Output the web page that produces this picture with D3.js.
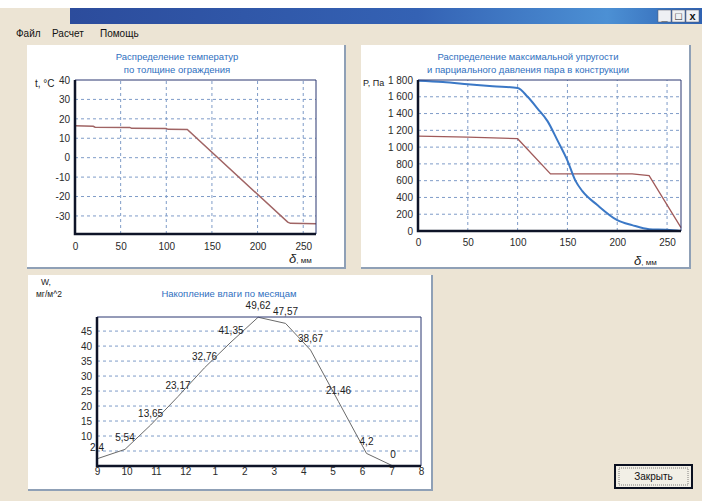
<!DOCTYPE html>
<html>
<head>
<meta charset="utf-8">
<script src="https://cdn.jsdelivr.net/npm/d3@7"></script>
<style>
  body { margin: 0; background: #ece4d4; }
  svg { display: block; font-family: "Liberation Sans", Arial, sans-serif; }
</style>
</head>
<body>
<script>
// Temperature through the wall, δ (mm) -> t (°C)
const tempDepth = [0, 20, 22, 60, 62, 100, 102, 123, 233, 236, 264];
const tempValue = [16.4, 16.2, 15.7, 15.6, 15.1, 15.0, 14.6, 14.5, -33.2, -33.8, -34.0];

// Max vapour elasticity E (blue) and partial pressure e (red), δ (mm) -> P (Pa)
const maxDepth = [0, 25, 50, 75, 100, 110, 120, 130, 140, 150, 158, 165, 180, 200, 215, 232, 250, 264];
const maxPress = [1790, 1775, 1750, 1725, 1705, 1600, 1460, 1310, 1080, 840, 600, 475, 310, 130, 70, 22, 15, 0];
const partDepth = [0, 50, 100, 133, 215, 232, 264];
const partPress = [1130, 1120, 1100, 680, 680, 660, 40];

// Moisture accumulation per month
const monthLabels = ["9", "10", "11", "12", "1", "2", "3", "4", "5", "6", "7", "8"];
const moisturePos = [0, 0.95, 1.82, 2.75, 3.65, 4.55, 5.47, 6.4, 7.25, 8.2, 9.15, 10.05];
const moistureValue = [2.4, 5.54, 13.65, 23.17, 32.76, 41.35, 49.62, 47.57, 38.67, 21.46, 4.2, 0];

const W = 702, H = 501;
const svg = d3.select("body").append("svg").attr("width", W).attr("height", H);

svg.append("rect").attr("width", W).attr("height", H).attr("fill", "#ece4d4");

// Window chrome
svg.append("rect").attr("width", W).attr("height", 8).attr("fill", "#fff");
const grad = svg.append("defs").append("linearGradient").attr("id", "bar");
grad.append("stop").attr("offset", "0%").attr("stop-color", "#2c4c9c");
grad.append("stop").attr("offset", "55%").attr("stop-color", "#3462b4");
grad.append("stop").attr("offset", "85%").attr("stop-color", "#4c90d4");
grad.append("stop").attr("offset", "100%").attr("stop-color", "#2f62b2");
svg.append("rect").attr("x", 70).attr("y", 8).attr("width", W - 70).attr("height", 16).attr("fill", "url(#bar)");

const btns = ["_", "□", "x"];
btns.forEach((b, i) => {
  const bx = 658 + i * 14;
  svg.append("rect").attr("x", bx).attr("y", 10).attr("width", 13).attr("height", 12)
    .attr("fill", "#eef0f4").attr("stroke", "#556").attr("stroke-width", 0.5);
  svg.append("text").attr("x", bx + 6.5).attr("y", 20).attr("text-anchor", "middle")
    .attr("font-size", 11).attr("font-weight", "bold").attr("fill", "#111").text(b);
});

[["Файл", 16], ["Расчет", 52], ["Помощь", 100]].forEach(([t, x]) => {
  svg.append("text").attr("x", x).attr("y", 37).attr("font-size", 10).attr("fill", "#111").text(t);
});

// Panels
function panel(x0, y0, x1, y1) {
  svg.append("rect").attr("x", x0).attr("y", y0).attr("width", x1 - x0).attr("height", y1 - y0)
    .attr("fill", "#fff");
  svg.append("path").attr("d", `M${x1},${y0}V${y1}H${x0}`).attr("fill", "none")
    .attr("stroke", "#8fa0b6").attr("stroke-width", 2);
}
panel(27, 45, 345, 268);
panel(361, 45, 690, 268);
panel(28, 275, 432, 490);

const gridColor = "#7f9cc8";
const ruFmt = d3.formatLocale({ decimal: ",", thousands: " ", grouping: [3], currency: ["", ""], minus: "-" });

function title(lines, cx, y0) {
  lines.forEach((l, i) => {
    svg.append("text").attr("x", cx).attr("y", y0 + i * 12.5).attr("text-anchor", "middle")
      .attr("font-size", 9.5).attr("fill", "#2f6fc0").text(l);
  });
}

function frame(g, x, y) {
  const [l, r] = x.range(), [b, t] = y.range();
  g.append("path").attr("d", `M${l},${t}H${r}V${b}`).attr("fill", "none")
    .attr("stroke", "#2a3670").attr("stroke-width", 1);
  g.append("path").attr("d", `M${l},${t}V${b}H${r}`).attr("fill", "none")
    .attr("stroke", "#0e1428").attr("stroke-width", 2.5);
}

function axisText(sel) {
  sel.select(".domain").remove();
  sel.selectAll("text").attr("font-size", 10).attr("fill", "#2a2a2a")
    .attr("font-family", "Liberation Sans, Arial, sans-serif");
}

function deltaLabel(x, y) {
  const t = svg.append("text").attr("x", x).attr("y", y).attr("fill", "#222");
  t.append("tspan").attr("font-size", 13).attr("font-style", "italic").text("δ");
  t.append("tspan").attr("font-size", 8).text(", мм");
}

// Chart 1: temperature
{
  const x = d3.scaleLinear().domain([0, 264]).range([75, 316]);
  const y = d3.scaleLinear().domain([-39.3, 40]).range([234, 80]);
  const g = svg.append("g");
  title(["Распределение температур", "по толщине ограждения"], 177, 60);

  g.selectAll(".hg").data([-30, -20, -10, 0, 10, 20, 30]).join("line")
    .attr("x1", x(0)).attr("x2", x(264)).attr("y1", d => y(d)).attr("y2", d => y(d))
    .attr("stroke", gridColor).attr("stroke-dasharray", "3,3");
  g.selectAll(".vg").data([50, 100, 150, 200, 250]).join("line")
    .attr("y1", y(-39.3)).attr("y2", y(40)).attr("x1", d => x(d)).attr("x2", d => x(d))
    .attr("stroke", gridColor).attr("stroke-dasharray", "3,3");

  const pts = tempDepth.map((d, i) => [d, tempValue[i]]);
  g.append("path").datum(pts)
    .attr("d", d3.line().x(d => x(d[0])).y(d => y(d[1])))
    .attr("fill", "none").attr("stroke", "#a06464").attr("stroke-width", 1.5);

  frame(g, x, y);

  g.append("g").attr("transform", `translate(75,0)`)
    .call(d3.axisLeft(y).tickValues([-30, -20, -10, 0, 10, 20, 30, 40]).tickSize(0).tickPadding(5)
      .tickFormat(ruFmt.format("d")))
    .call(axisText);
  g.append("g").attr("transform", `translate(0,234)`)
    .call(d3.axisBottom(x).tickValues([0, 50, 100, 150, 200, 250]).tickSize(0).tickPadding(9))
    .call(axisText);

  svg.append("text").attr("x", 35).attr("y", 87).attr("font-size", 10).attr("fill", "#222").text("t, °C");
  deltaLabel(289, 263);
}

// Chart 2: pressures
{
  const x = d3.scaleLinear().domain([0, 264]).range([418, 681]);
  const y = d3.scaleLinear().domain([0, 1800]).range([231, 80]);
  const g = svg.append("g");
  title(["Распределение максимальной упругости", "и парциального давления пара в конструкции"], 528, 60);

  g.selectAll(".hg").data([200, 400, 600, 800, 1000, 1200, 1400, 1600]).join("line")
    .attr("x1", x(0)).attr("x2", x(264)).attr("y1", d => y(d)).attr("y2", d => y(d))
    .attr("stroke", gridColor).attr("stroke-dasharray", "3,3");
  g.selectAll(".vg").data([50, 100, 150, 200, 250]).join("line")
    .attr("y1", y(0)).attr("y2", y(1800)).attr("x1", d => x(d)).attr("x2", d => x(d))
    .attr("stroke", gridColor).attr("stroke-dasharray", "3,3");

  const line = d3.line().x(d => x(d[0])).y(d => y(d[1]));
  g.append("path").datum(partDepth.map((d, i) => [d, partPress[i]]))
    .attr("d", line).attr("fill", "none").attr("stroke", "#a05a5a").attr("stroke-width", 1.3);
  g.append("path").datum(maxDepth.map((d, i) => [d, maxPress[i]]))
    .attr("d", d3.line().curve(d3.curveMonotoneX).x(d => x(d[0])).y(d => y(d[1])))
    .attr("fill", "none").attr("stroke", "#3b78c6").attr("stroke-width", 2);

  frame(g, x, y);

  g.append("g").attr("transform", `translate(418,0)`)
    .call(d3.axisLeft(y).tickValues(d3.range(0, 1801, 200)).tickSize(0).tickPadding(5)
      .tickFormat(ruFmt.format(",")))
    .call(axisText);
  g.append("g").attr("transform", `translate(0,231)`)
    .call(d3.axisBottom(x).tickValues([0, 50, 100, 150, 200, 250]).tickSize(0).tickPadding(8))
    .call(axisText);

  svg.append("text").attr("x", 363).attr("y", 86).attr("font-size", 9).attr("fill", "#222").text("P, Па");
  deltaLabel(634, 265);
}

// Chart 3: moisture accumulation
{
  const x = d3.scaleLinear().domain([0, 11]).range([97, 421]);
  const y = d3.scaleLinear().domain([0, 49.7]).range([466, 317]);
  const g = svg.append("g");
  title(["Накопление влаги по месяцам"], 229, 297);

  g.selectAll(".hg").data([5, 10, 15, 20, 25, 30, 35, 40, 45]).join("line")
    .attr("x1", x(0)).attr("x2", x(11)).attr("y1", d => y(d)).attr("y2", d => y(d))
    .attr("stroke", gridColor).attr("stroke-dasharray", "3,3");

  const pts = moisturePos.map((p, i) => [p, moistureValue[i]]);
  g.append("path").datum(pts)
    .attr("d", d3.line().x(d => x(d[0])).y(d => y(d[1])))
    .attr("fill", "none").attr("stroke", "#6a6a6a").attr("stroke-width", 1);

  g.selectAll(".lbl").data(pts).join("text")
    .attr("x", d => x(d[0])).attr("y", d => y(d[1]) - 8)
    .attr("text-anchor", "middle").attr("font-size", 10).attr("fill", "#222")
    .text(d => String(d[1]).replace(".", ","));

  frame(g, x, y);

  g.append("g").attr("transform", `translate(97,0)`)
    .call(d3.axisLeft(y).tickValues([10, 15, 20, 25, 30, 35, 40, 45]).tickSize(0).tickPadding(5))
    .call(axisText);
  g.append("g").attr("transform", `translate(0,466)`)
    .call(d3.axisBottom(x).tickValues(d3.range(12)).tickFormat(i => monthLabels[i]).tickSize(0).tickPadding(2))
    .call(axisText);

  svg.append("text").attr("x", 41).attr("y", 285).attr("font-size", 8.5).attr("fill", "#222").text("W,");
  svg.append("text").attr("x", 36).attr("y", 297).attr("font-size", 8.5).attr("fill", "#222").text("мг/м^2");
}

// Close button
svg.append("rect").attr("x", 615).attr("y", 465).attr("width", 77).attr("height", 23)
  .attr("fill", "#f2efe6").attr("stroke", "#0b1020").attr("stroke-width", 2);
svg.append("rect").attr("x", 619).attr("y", 468).attr("width", 69).attr("height", 17)
  .attr("fill", "none").attr("stroke", "#666").attr("stroke-dasharray", "1,1").attr("stroke-width", 0.8);
svg.append("text").attr("x", 653.5).attr("y", 480).attr("text-anchor", "middle")
  .attr("font-size", 10).attr("fill", "#111").text("Закрыть");
</script>
</body>
</html>
